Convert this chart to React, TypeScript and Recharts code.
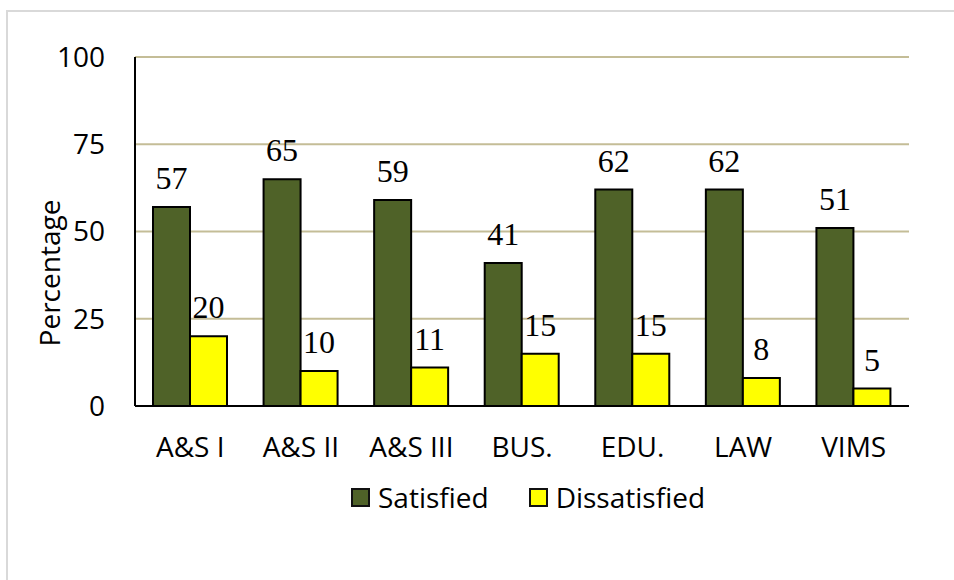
import React from 'react'
import { Bar, BarChart, CartesianGrid, LabelList, XAxis, YAxis } from 'recharts'

const departments = ['A&S I', 'A&S II', 'A&S III', 'BUS.', 'EDU.', 'LAW', 'VIMS']
const satisfied = [57, 65, 59, 41, 62, 62, 51]
const dissatisfied = [20, 10, 11, 15, 15, 8, 5]
const yTicks = [0, 25, 50, 75, 100]

const data = departments.map((dept, i) => ({
    dept,
    satisfied: satisfied[i],
    dissatisfied: dissatisfied[i],
}))

const SANS = '"Open Sans", sans-serif'
const SERIF = '"Liberation Serif", "Times New Roman", serif'
const GREEN = '#4F6228'
const YELLOW = '#FFFF00'

const legendItems = [
    { name: 'Satisfied', color: GREEN },
    { name: 'Dissatisfied', color: YELLOW },
]

// legend drawn as plain html under the plot, so it doesn't shrink the plot area
const ChartLegend = () => (
    <div
        style={{
            position: 'absolute',
            left: 141,
            top: 478,
            width: 774,
            display: 'flex',
            justifyContent: 'center',
            gap: 40,
            fontFamily: SANS,
            fontSize: 28,
            lineHeight: '38px',
        }}
    >
        {legendItems.map((item) => (
            <div key={item.name} style={{ display: 'flex', alignItems: 'center' }}>
                <span
                    style={{
                        display: 'inline-block',
                        width: 15,
                        height: 15,
                        background: item.color,
                        border: '2px solid #111',
                        marginRight: 8,
                    }}
                />
                <span style={{ color: '#000' }}>{item.name}</span>
            </div>
        ))}
    </div>
)

const YLabel = () => (
    <text
        x={60}
        y={273}
        transform="rotate(-90 60 273)"
        textAnchor="middle"
        fontFamily={SANS}
        fontSize={28}
        fill="#000"
    >
        Percentage
    </text>
)

export default function App() {
    return (
        <div style={{ position: 'absolute', left: 0, top: 0, width: 954, height: 580, background: '#fff', overflow: 'hidden' }}>
            <div
                style={{
                    position: 'absolute',
                    left: 6,
                    top: 10,
                    width: 960,
                    height: 580,
                    border: '2px solid #d9d9d9',
                    boxSizing: 'border-box',
                }}
            />
            <BarChart
                width={954}
                height={580}
                data={data}
                margin={{ top: 57, right: 45, bottom: 144, left: 0 }}
                barGap={0}
                barSize={37}
                style={{ position: 'absolute', left: 0, top: 0 }}
            >
                <CartesianGrid vertical={false} stroke="#C4BD97" strokeWidth={2} />
                <XAxis
                    dataKey="dept"
                    height={30}
                    axisLine={{ stroke: '#000', strokeWidth: 2 }}
                    tickLine={false}
                    tickMargin={25}
                    tick={{ fill: '#000', fontFamily: SANS, fontSize: 28 }}
                    interval={0}
                />
                <YAxis
                    width={135}
                    domain={[0, 100]}
                    ticks={yTicks}
                    axisLine={{ stroke: '#000', strokeWidth: 2 }}
                    tickLine={false}
                    tickMargin={24}
                    tick={{ fill: '#000', fontFamily: SANS, fontSize: 28 }}
                    label={<YLabel />}
                />
                <Bar dataKey="satisfied" name="Satisfied" fill={GREEN} stroke="#000" strokeWidth={2} isAnimationActive={false}>
                    <LabelList dataKey="satisfied" position="top" offset={18} fill="#000" fontFamily={SERIF} fontSize={32} />
                </Bar>
                <Bar dataKey="dissatisfied" name="Dissatisfied" fill={YELLOW} stroke="#000" strokeWidth={2} isAnimationActive={false}>
                    <LabelList dataKey="dissatisfied" position="top" offset={18} fill="#000" fontFamily={SERIF} fontSize={32} />
                </Bar>
            </BarChart>
            <ChartLegend />
        </div>
    )
}
